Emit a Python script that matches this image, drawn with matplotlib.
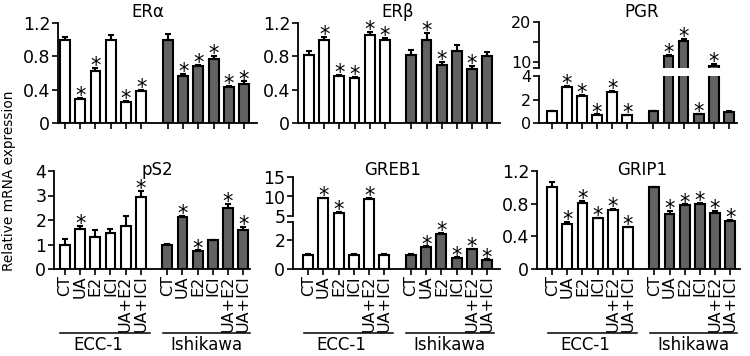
import matplotlib
matplotlib.use('Agg')
import matplotlib.pyplot as plt
import numpy as np
from matplotlib.transforms import blended_transform_factory

# ---------------- data ----------------
treatments = ["CT", "UA", "E2", "ICI", "UA+E2", "UA+ICI"]
groups = ["ECC-1", "Ishikawa"]

era_ecc = [1.00, 0.29, 0.63, 0.99, 0.25, 0.39]
era_ecc_err = [0.03, 0.01, 0.03, 0.07, 0.01, 0.01]
era_ecc_sig = [0, 1, 1, 0, 1, 1]
era_ish = [1.00, 0.57, 0.69, 0.77, 0.43, 0.47]
era_ish_err = [0.07, 0.02, 0.01, 0.03, 0.02, 0.03]
era_ish_sig = [0, 1, 1, 1, 1, 1]

erb_ecc = [0.81, 1.00, 0.56, 0.54, 1.06, 0.99]
erb_ecc_err = [0.05, 0.03, 0.02, 0.01, 0.03, 0.03]
erb_ecc_sig = [0, 1, 1, 1, 1, 1]
erb_ish = [0.81, 1.00, 0.70, 0.86, 0.65, 0.80]
erb_ish_err = [0.06, 0.08, 0.03, 0.08, 0.03, 0.05]
erb_ish_sig = [0, 1, 1, 0, 1, 0]

pgr_ecc = [1.0, 3.1, 2.3, 0.7, 2.65, 0.65]
pgr_ecc_err = [0.02, 0.08, 0.10, 0.03, 0.06, 0.05]
pgr_ecc_sig = [0, 1, 1, 1, 1, 1]
pgr_ish = [1.0, 11.4, 15.2, 0.75, 9.1, 0.95]
pgr_ish_err = [0.02, 0.3, 0.6, 0.05, 0.4, 0.03]
pgr_ish_sig = [0, 1, 1, 1, 1, 0]

ps2_ecc = [1.0, 1.65, 1.31, 1.47, 1.75, 2.93]
ps2_ecc_err = [0.22, 0.10, 0.27, 0.15, 0.42, 0.27]
ps2_ecc_sig = [0, 1, 0, 0, 0, 1]
ps2_ish = [1.0, 2.12, 0.73, 1.17, 2.48, 1.60]
ps2_ish_err = [0.02, 0.05, 0.03, 0.02, 0.17, 0.12]
ps2_ish_sig = [0, 1, 1, 0, 1, 1]

greb1_ecc = [1.0, 9.6, 5.8, 1.0, 9.3, 1.0]
greb1_ecc_err = [0.03, 0.1, 0.3, 0.03, 0.4, 0.02]
greb1_ecc_sig = [0, 1, 1, 0, 1, 0]
greb1_ish = [1.0, 1.5, 2.42, 0.76, 1.35, 0.63]
greb1_ish_err = [0.02, 0.06, 0.05, 0.04, 0.05, 0.03]
greb1_ish_sig = [0, 1, 1, 1, 1, 1]

grip1_ecc = [1.0, 0.55, 0.81, 0.62, 0.72, 0.51]
grip1_ecc_err = [0.06, 0.03, 0.02, 0.01, 0.02, 0.01]
grip1_ecc_sig = [0, 1, 1, 1, 1, 1]
grip1_ish = [1.0, 0.67, 0.78, 0.80, 0.69, 0.59]
grip1_ish_err = [0.01, 0.04, 0.01, 0.01, 0.02, 0.01]
grip1_ish_sig = [0, 1, 1, 1, 1, 1]

# ---------------- layout ----------------
W, H = 750, 356
fig = plt.figure(figsize=(7.5, 3.56), dpi=100)
plt.rcParams['font.family'] = ['DejaVu Sans']

GREY = '#626262'
BW = 0.65
x_ecc = np.arange(6)
x_ish = np.arange(6) + 6.75
xs = np.concatenate([x_ecc, x_ish])


def ax_px(x0, x1, ytop, ybot):
    return fig.add_axes([x0 / W, (H - ybot) / H, (x1 - x0) / W, (ybot - ytop) / H])


def style(ax, xlim, bottom=True):
    for s in ['top', 'right']:
        ax.spines[s].set_visible(False)
    ax.spines['left'].set_linewidth(1.3)
    ax.spines['bottom'].set_linewidth(1.3)
    ax.set_xlim(*xlim)
    ax.tick_params(axis='both', which='both', length=4, width=1.2,
                   labelsize=12.5, pad=1.5, direction='out')
    ax.tick_params(axis='x', pad=0.5)
    ax.set_facecolor('none')
    if bottom:
        ax.set_xticks(xs)
        ax.set_xticklabels([])
    else:
        ax.spines['bottom'].set_visible(False)
        ax.set_xticks([])


def bars(ax, ecc, ecc_err, ecc_sig, ish, ish_err, ish_sig, lo=None, hi=None):
    ax.bar(x_ecc, ecc, width=BW, color='white', edgecolor='black', lw=1.5, zorder=3)
    ax.bar(x_ish, ish, width=BW, color=GREY, edgecolor='black', lw=1.5, zorder=3)
    for xx, v, e in ((x_ecc, ecc, ecc_err), (x_ish, ish, ish_err)):
        ax.errorbar(xx, v, yerr=[np.zeros(len(v)), e], fmt='none', ecolor='black',
                    elinewidth=1.5, capsize=2.5, capthick=1.5, zorder=4)
    for xx, v, e, s in ((x_ecc, ecc, ecc_err, ecc_sig), (x_ish, ish, ish_err, ish_sig)):
        for xi, vi, ei, si in zip(xx, v, e, s):
            if not si:
                continue
            if lo is not None and vi < lo:
                continue
            if hi is not None and vi > hi:
                continue
            ax.annotate('*', xy=(xi, vi + ei), xytext=(0, -3), textcoords='offset points',
                        ha='center', va='baseline', fontsize=15, zorder=5,
                        annotation_clip=False)


def xlabels(ax):
    ax.set_xticklabels(treatments * 2, rotation=90, ha='center', va='top', fontsize=11.5)
    tr = blended_transform_factory(ax.transData, fig.transFigure)
    yl = (H - 333) / H
    yt = (H - 345) / H
    ax.plot([-0.3, 5.6], [yl, yl], color='black', lw=1.1, transform=tr, clip_on=False)
    ax.plot([6.45, 12.2], [yl, yl], color='black', lw=1.1, transform=tr, clip_on=False)
    ax.text(2.2, yt, groups[0], transform=tr, ha='center', va='center', fontsize=12)
    ax.text(9.3, yt, groups[1], transform=tr, ha='center', va='center', fontsize=12)


def fmt_ticks(ax, ticks, labels, size=None):
    ax.set_yticks(ticks)
    ax.set_yticklabels(labels)
    if size:
        ax.tick_params(axis='y', labelsize=size)


t12 = [0, 0.4, 0.8, 1.2]
l12 = ['0', '0.4', '0.8', '1.2']

# ERalpha
ax = ax_px(58, 257, 23, 123)
style(ax, (-0.46, 12.6))
bars(ax, era_ecc, era_ecc_err, era_ecc_sig, era_ish, era_ish_err, era_ish_sig)
ax.set_ylim(0, 1.2)
fmt_ticks(ax, t12, l12)

# ERbeta
ax = ax_px(298, 500, 23, 123)
style(ax, (-0.73, 12.6))
bars(ax, erb_ecc, erb_ecc_err, erb_ecc_sig, erb_ish, erb_ish_err, erb_ish_sig)
ax.set_ylim(0, 1.2)
fmt_ticks(ax, t12, l12)

# PGR (broken)
ax = ax_px(539, 737, 76, 123)
style(ax, (-0.86, 12.3))
bars(ax, pgr_ecc, pgr_ecc_err, pgr_ecc_sig, pgr_ish, pgr_ish_err, pgr_ish_sig, hi=4)
ax.set_ylim(0, 4)
fmt_ticks(ax, [0, 2, 4], ['0', '2', '4'], size=11.5)
ax = ax_px(539, 737, 22, 68)
style(ax, (-0.86, 12.3), bottom=False)
bars(ax, pgr_ecc, pgr_ecc_err, pgr_ecc_sig, pgr_ish, pgr_ish_err, pgr_ish_sig, lo=4)
ax.set_ylim(8.5, 20)
fmt_ticks(ax, [10, 20], ['10', '20'], size=11.5)
ax.set_yticks([8.5, 15], minor=True)

# pS2
ax = ax_px(54, 250, 171, 269)
style(ax, (-0.72, 12.2))
bars(ax, ps2_ecc, ps2_ecc_err, ps2_ecc_sig, ps2_ish, ps2_ish_err, ps2_ish_sig)
ax.set_ylim(0, 4)
fmt_ticks(ax, [0, 1, 2, 3, 4], ['0', '1', '2', '3', '4'])
xlabels(ax)

# GREB1 (broken)
axl = ax_px(293, 500, 222, 269)
style(axl, (-1.0, 12.6))
bars(axl, greb1_ecc, greb1_ecc_err, greb1_ecc_sig, greb1_ish, greb1_ish_err, greb1_ish_sig, hi=3.25)
axl.set_ylim(0, 3.25)
fmt_ticks(axl, [0, 2], ['0', '2'])
axl.set_yticks([3.25], minor=True)
xlabels(axl)
axu = ax_px(293, 500, 177, 216)
style(axu, (-1.0, 12.6), bottom=False)
bars(axu, greb1_ecc, greb1_ecc_err, greb1_ecc_sig, greb1_ish, greb1_ish_err, greb1_ish_sig, lo=3.25)
axu.set_ylim(5, 15)
fmt_ticks(axu, [5, 10, 15], ['5', '10', '15'])
# continue white bar outlines through the break
tr = blended_transform_factory(axl.transData, fig.transFigure)
for xi, vi in zip(x_ecc, greb1_ecc):
    if vi > 3.25:
        for dx in (-BW / 2, BW / 2):
            axl.plot([xi + dx, xi + dx], [(H - 222) / H, (H - 216) / H], color='black',
                     lw=1.5, transform=tr, clip_on=False)

# GRIP1
ax = ax_px(537, 740, 171, 269)
style(ax, (-1.0, 12.4))
bars(ax, grip1_ecc, grip1_ecc_err, grip1_ecc_sig, grip1_ish, grip1_ish_err, grip1_ish_sig)
ax.set_ylim(0, 1.2)
fmt_ticks(ax, t12, l12)
xlabels(ax)

# titles
def title(xp, yp, s):
    fig.text(xp / W, (H - yp) / H, s, ha='center', va='center', fontsize=12)

title(148, 12, 'ERα')
title(398, 12, 'ERβ')
title(642, 12, 'PGR')
title(157, 170, 'pS2')
title(393, 170, 'GREB1')
title(642, 170, 'GRIP1')

fig.text(9 / W, (H - 181) / H, 'Relative mRNA expression', rotation=90,
         ha='center', va='center', fontsize=9.8)

fig.savefig('out.png', dpi=100)
